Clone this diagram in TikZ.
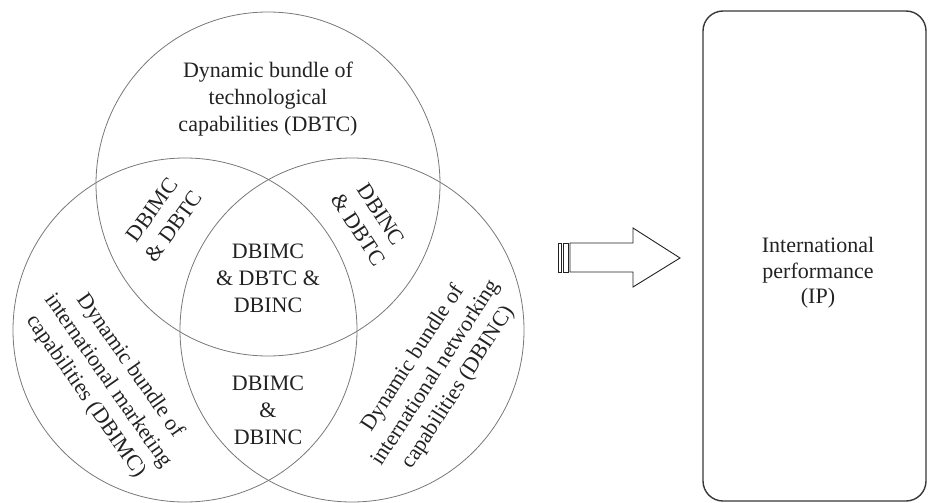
\documentclass[tikz,border=0pt]{standalone}
\usepackage{fontspec}
\setmainfont{Liberation Serif}
\usepackage{tikz}
\usetikzlibrary{positioning,calc}
\definecolor{venngray}{RGB}{120,120,120}
\definecolor{inkdark}{RGB}{34,34,34}

\begin{document}
\begin{tikzpicture}[x=1pt,y=-1pt,
  venn/.style={circle,draw=venngray,line width=0.8pt,minimum size=344pt,inner sep=0pt},
  lbl/.style={align=center,text=inkdark,inner sep=0pt,font=\fontsize{22}{27}\selectfont},
  ipbox/.style={draw=inkdark!90,line width=1.4pt,rounded corners=20pt,minimum width=223pt,minimum height=490pt,inner sep=0pt}]
  \useasboundingbox (0,0) rectangle (929,503);
  % three capability bundles
  \node[venn] (tc) at (268,184) {};
  \node[venn] (mc) at (185,330) {};
  \node[venn] (nc) at (352,330) {};
  % labels
  \node[lbl] (dbtc) at (268,99) {Dynamic bundle of\\technological\\capabilities (DBTC)};
  \node[lbl,rotate=-55] (dbimc) at (108,381) {Dynamic bundle of\\international marketing\\capabilities (DBIMC)};
  \node[lbl,rotate=57] (dbinc) at (436,373) {Dynamic bundle of\\international networking\\capabilities (DBINC)};
  \node[lbl,rotate=54] (mctc) at (163,218) {DBIMC\\\& DBTC};
  \node[lbl,rotate=-57] (nctc) at (370,222) {DBINC\\\& DBTC};
  \node[lbl] (all) at (268,278) {DBIMC\\\& DBTC \&\\DBINC};
  \node[lbl] (mcnc) at (268,410) {DBIMC\\\&\\DBINC};
  % striped block arrow
  \draw[inkdark,line width=0.9pt] (558,243) rectangle (561,272);
  \draw[inkdark,line width=0.9pt] (563,243) rectangle (568,272);
  \draw[inkdark,line width=0.9pt,line join=miter]
    (570,243) -- (633,243) -- (633,228) -- (680,258) -- (633,287) -- (633,272) -- (570,272) -- cycle;
  % outcome
  \node[ipbox] (ip) at (814.5,256) {};
  \node[lbl,font=\fontsize{22}{25.5}\selectfont] (iptxt) at (818,273) {International\\performance\\(IP)};
\end{tikzpicture}
\end{document}
